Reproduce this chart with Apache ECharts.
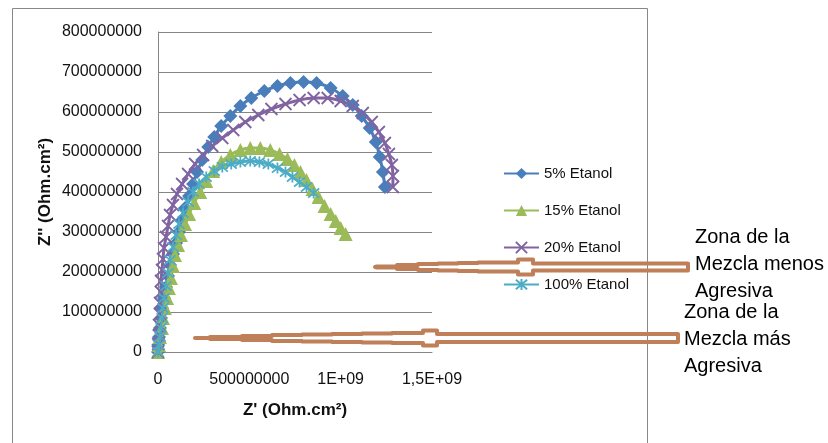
<!DOCTYPE html>
<html>
<head>
<meta charset="utf-8">
<script src="https://cdn.jsdelivr.net/npm/echarts@6/dist/echarts.min.js"></script>
<style>
html,body{margin:0;padding:0;background:#fff;}
#c{width:828px;height:443px;}
</style>
</head>
<body>
<div id="c"></div>
<script>
// ---- Data (Z' , Z'') in Ohm.cm² ----
const seriesNames = ['5% Etanol', '15% Etanol', '20% Etanol', '100% Etanol'];

const zReal5 = [0,1e6,5.5e6,11e6,16.5e6,22e6,33e6,44e6,55e6,66e6,82e6,99e6,115e6,132e6,148e6,170e6,192e6,214e6,242e6,275e6,308e6,346e6,396e6,451e6,511e6,582e6,654e6,725e6,797e6,868e6,945e6,1011e6,1066e6,1115e6,1159e6,1192e6,1214e6,1231e6,1242e6];
const zImag5 = [0,17.5e6,37.5e6,60e6,85e6,110e6,135e6,162.5e6,190e6,217.5e6,245e6,272.5e6,300e6,330e6,360e6,390e6,420e6,450e6,480e6,512.5e6,537.5e6,565e6,590e6,615e6,635e6,652.5e6,665e6,672.5e6,675e6,672.5e6,660e6,640e6,617.5e6,590e6,560e6,525e6,487.5e6,450e6,412.5e6];

const zReal15 = [0,5.5e6,11e6,22e6,27.5e6,38.5e6,49.5e6,60e6,71e6,82e6,93e6,110e6,126e6,148e6,170e6,198e6,231e6,264e6,302e6,346e6,396e6,451e6,505e6,560e6,615e6,665e6,709e6,747e6,780e6,813e6,846e6,879e6,912e6,945e6,973e6,1000e6,1027e6];
const zImag15 = [0,17.5e6,37.5e6,60e6,85e6,110e6,135e6,160e6,185e6,215e6,242.5e6,267.5e6,292.5e6,320e6,345e6,372.5e6,400e6,427.5e6,452.5e6,475e6,492.5e6,505e6,510e6,510e6,505e6,495e6,482.5e6,467.5e6,450e6,430e6,407.5e6,387.5e6,365e6,345e6,327.5e6,310e6,295e6];

const zReal20 = [0,1e6,5.5e6,5.5e6,11e6,11e6,16.5e6,16.5e6,22e6,27.5e6,33e6,44e6,55e6,66e6,82e6,104e6,132e6,165e6,203e6,247e6,297e6,352e6,412e6,478e6,549e6,621e6,698e6,775e6,852e6,929e6,1000e6,1066e6,1121e6,1170e6,1209e6,1242e6,1264e6,1280e6,1286e6,1286e6];
const zImag20 = [0,20e6,42.5e6,67.5e6,95e6,122.5e6,150e6,177.5e6,205e6,232.5e6,260e6,287.5e6,315e6,342.5e6,367.5e6,395e6,420e6,445e6,470e6,492.5e6,515e6,535e6,555e6,575e6,592.5e6,607.5e6,620e6,630e6,635e6,635e6,627.5e6,615e6,597.5e6,575e6,550e6,522.5e6,495e6,467.5e6,440e6,412.5e6];

const zReal100 = [0,5.5e6,11e6,16.5e6,22e6,27.5e6,33e6,44e6,55e6,66e6,82e6,99e6,115e6,137e6,165e6,192e6,225e6,264e6,308e6,352e6,401e6,451e6,505e6,555e6,604e6,654e6,698e6,736e6,775e6,813e6,852e6];
const zImag100 = [0,17.5e6,37.5e6,60e6,85e6,110e6,135e6,165e6,197.5e6,230e6,262.5e6,292.5e6,320e6,347.5e6,375e6,400e6,420e6,437.5e6,452.5e6,462.5e6,470e6,475e6,477.5e6,475e6,470e6,460e6,450e6,437.5e6,425e6,412.5e6,397.5e6];

const xTickValues = [0, 500000000, 1000000000, 1500000000];
const xTickLabels = ['0', '500000000', '1E+09', '1,5E+09'];
const yTickLabels = ['0','100000000','200000000','300000000','400000000','500000000','600000000','700000000','800000000'];

const annotationUpper = ['Zona de la', 'Mezcla menos', 'Agresiva'];
const annotationLower = ['Zona de la', 'Mezcla más', 'Agresiva'];

// ---- Build ----
function pairs(xs, ys){ return xs.map((x,i)=>[x, ys[i]]); }
const colors = ['#4A7EBB', '#9BBB59', '#8064A2', '#4BACC6'];
const symX = 'path://M0,0L10,10M10,0L0,10';
const symStar = 'path://M0,0L10,10M10,0L0,10M5,-1L5,11';

const chart = echarts.init(document.getElementById('c'), null, {renderer:'canvas'});

function mkSeries(name, data, color, symbol, size, stroke){
  return {
    name, type:'line', data, smooth:0.3, symbol, symbolSize:size,
    showAllSymbol:true,
    lineStyle:{color, width:3},
    itemStyle:{color: stroke ? 'rgba(0,0,0,0)' : color, borderColor: color, borderWidth: stroke ? 1.8 : 0},
    emphasis:{disabled:true}, animation:false
  };
}

function arrowPoints(cy, tip, segs, hw, rectStart, rectEnd, rectHw, bump, lw){
  const top = [], bot = [];
  top.push([tip, cy]);
  for (let i=0;i<hw.length;i++){
    const h = Math.max(hw[i]-lw/2, 0.01);
    top.push([segs[i], cy-h]); top.push([segs[i+1], cy-h]);
    bot.push([segs[i], cy+h]); bot.push([segs[i+1], cy+h]);
  }
  const bh = bump[2]-lw/2;
  top.push([bump[0], cy-bh]); top.push([bump[1], cy-bh]);
  bot.push([bump[0], cy+bh]); bot.push([bump[1], cy+bh]);
  const rh = rectHw-lw/2;
  top.push([rectStart, cy-rh]); top.push([rectEnd, cy-rh]);
  bot.push([rectStart, cy+rh]); bot.push([rectEnd, cy+rh]);
  return top.concat(bot.reverse());
}

const brown = '#BF7F58';
const ALW = 4;
const arrowLower = arrowPoints(338, 195,
  [197,210,242,272,302,332,362,392,423], [2,3,4,5,5.5,6,6.5,7],
  437, 678, 6, [423,437,9.5], ALW);
const arrowUpper = arrowPoints(267, 375,
  [377,397,418,438,458,478,518], [2.5,4,5,5.5,6,6.5],
  533, 688, 5.5, [518,533,9.5], ALW);

const option = {
  backgroundColor:'#fff',
  animation:false,
  grid:{left:158, right:396, top:32, bottom:91},
  xAxis:{
    type:'value', min:0, max:1500000000, interval:500000000,
    axisLine:{show:true, lineStyle:{color:'#868686'}},
    axisTick:{show:false},
    splitLine:{show:false},
    axisLabel:{
      color:'#111', fontSize:16, fontFamily:'"Liberation Sans", Arial', margin:20,
      formatter:(v)=>{ const i = xTickValues.indexOf(v); return i>=0 ? xTickLabels[i] : ''; }
    },
    name:"Z' (Ohm.cm²)", nameLocation:'middle', nameGap:50,
    nameTextStyle:{color:'#111', fontSize:17, fontWeight:'bold', fontFamily:'"Liberation Sans", Arial'}
  },
  yAxis:{
    type:'value', min:0, max:800000000, interval:100000000,
    axisLine:{show:true, lineStyle:{color:'#868686'}},
    axisTick:{show:false},
    splitLine:{show:true, lineStyle:{color:'#868686', width:1}},
    axisLabel:{
      color:'#111', fontSize:16, fontFamily:'"Liberation Sans", Arial', margin:16,
      formatter:(v)=> yTickLabels[Math.round(v/100000000)]
    },
    name:"Z'' (Ohm.cm²)", nameLocation:'middle', nameGap:104,
    nameTextStyle:{color:'#111', fontSize:17, fontWeight:'bold', fontFamily:'"Liberation Sans", Arial'}
  },
  legend:{
    orient:'vertical', left:503, top:166, padding:0, itemWidth:35, itemHeight:14, itemGap:22,
    textStyle:{color:'#111', fontSize:15, fontFamily:'"Liberation Sans", Arial'},
    data:seriesNames
  },
  series:[
    mkSeries(seriesNames[0], pairs(zReal5, zImag5), colors[0], 'diamond', 14, false),
    mkSeries(seriesNames[1], pairs(zReal15, zImag15), colors[1], 'triangle', 14, false),
    mkSeries(seriesNames[2], pairs(zReal20, zImag20), colors[2], symX, 12, true),
    mkSeries(seriesNames[3], pairs(zReal100, zImag100), colors[3], symStar, 11, true)
  ],
  graphic:[
    {type:'rect', silent:true, z:-10, shape:{x:12.5, y:8.5, width:635, height:460},
     style:{fill:'none', stroke:'#888', lineWidth:1}},
    {type:'polygon', silent:true, z:100, shape:{points:arrowLower},
     style:{fill:'none', stroke:brown, lineWidth:ALW, lineJoin:'round'}},
    {type:'polygon', silent:true, z:100, shape:{points:arrowUpper},
     style:{fill:'none', stroke:brown, lineWidth:ALW, lineJoin:'round'}},
    {type:'text', silent:true, z:100, style:{x:695, y:224, text:annotationUpper.join('\n'),
      font:'20px "Liberation Sans", Arial', lineHeight:27, fill:'#000'}},
    {type:'text', silent:true, z:100, style:{x:684, y:299, text:annotationLower.join('\n'),
      font:'20px "Liberation Sans", Arial', lineHeight:27, fill:'#000'}}
  ]
};
chart.setOption(option);
</script>
</body>
</html>
